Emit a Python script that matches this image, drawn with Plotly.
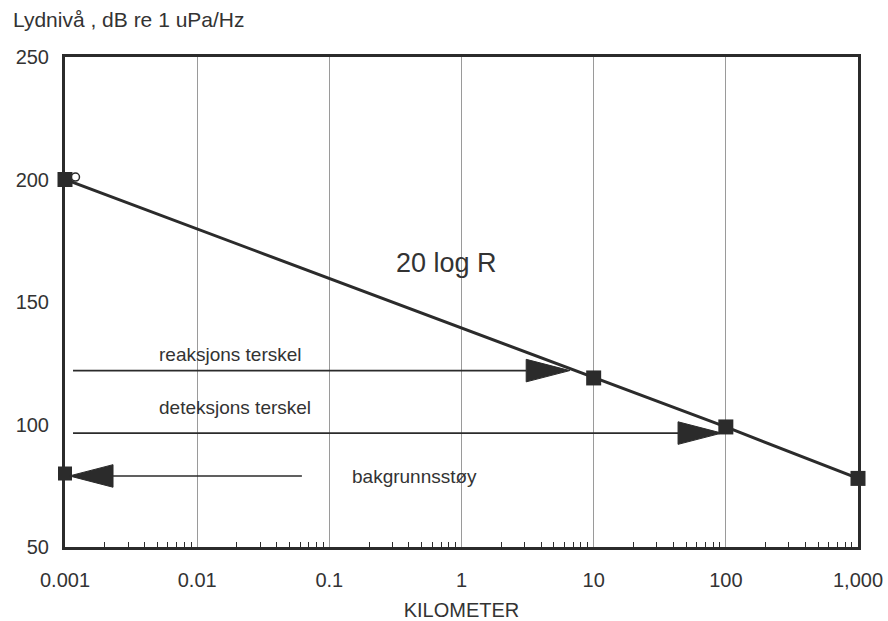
import math
import plotly.graph_objects as go

# Spreading loss curve, 20 log R (km, dB re 1 uPa/Hz)
range_km = [0.001, 10, 100, 1000]
level_db = [200, 119, 99, 78]

# Source / far-end open circles
circle_km = [0.0012, 1060]
circle_db = [201, 78]

# Threshold arrows: level dB, start km, tip km
arrow_labels = ["reaksjons terskel", "deteksjons terskel", "bakgrunnsstøy"]
arrow_levels = [122, 96.5, 79]
arrow_start_km = [0.00115, 0.00115, 0.062]
arrow_tip_km = [6.6, 93, 0.00108]
background_square_db = [80]

x_ticks = [0.001, 0.01, 0.1, 1, 10, 100, 1000]
x_tick_text = ["0.001", "0.01", "0.1", "1", "10", "100", "1,000"]
y_ticks = [50, 100, 150, 200, 250]

INK = "#2b2b2b"
TEXT = "#333333"
FONT = "Liberation Sans, Arial, sans-serif"

fig = go.Figure()

# Main 20 log R line with square markers
fig.add_trace(go.Scatter(
    x=range_km, y=level_db, mode="lines+markers",
    line=dict(color=INK, width=3),
    marker=dict(symbol="square", size=15, color=INK),
    cliponaxis=False, showlegend=False, hoverinfo="skip"))

fig.add_trace(go.Scatter(
    x=circle_km, y=circle_db, mode="markers",
    marker=dict(symbol="circle", size=8, color="white",
                line=dict(color=INK, width=1.5)),
    cliponaxis=False, showlegend=False, hoverinfo="skip"))

# Square on the y axis marking background noise
fig.add_trace(go.Scatter(
    x=[0.001], y=background_square_db, mode="markers",
    marker=dict(symbol="square", size=14, color=INK),
    cliponaxis=False, showlegend=False, hoverinfo="skip"))

# Arrowhead geometry: length in decades, half-height in dB
HEAD_LEN = 0.33
HEAD_HALF = 4.6

for lvl, x0, x1 in zip(arrow_levels, arrow_start_km, arrow_tip_km):
    direction = 1 if x1 > x0 else -1
    base = 10 ** (math.log10(x1) - direction * HEAD_LEN)
    fig.add_trace(go.Scatter(
        x=[x0, base], y=[lvl, lvl], mode="lines",
        line=dict(color=INK, width=1.6),
        showlegend=False, hoverinfo="skip"))
    fig.add_trace(go.Scatter(
        x=[base, x1, base, base], y=[lvl + HEAD_HALF, lvl, lvl - HEAD_HALF, lvl + HEAD_HALF],
        mode="lines", fill="toself", fillcolor=INK,
        line=dict(color=INK, width=1),
        cliponaxis=False, showlegend=False, hoverinfo="skip"))

# Text labels
label_pos = [(0.00497, 128.6), (0.00497, 106.8), (0.143, 78.6)]
for txt, (lx, ly) in zip(arrow_labels, label_pos):
    fig.add_annotation(x=math.log10(lx), y=ly, text=txt, showarrow=False,
                       xanchor="left", yanchor="middle",
                       font=dict(family=FONT, size=19, color=TEXT))

fig.add_annotation(x=math.log10(0.31), y=166, text="20 log R", showarrow=False,
                   xanchor="left", yanchor="middle",
                   font=dict(family=FONT, size=27, color=TEXT))

fig.add_annotation(x=-0.068, y=1 + 37 / 490, xref="paper", yref="paper",
                   xanchor="left", yanchor="middle",
                   text="Lydnivå , dB re 1 uPa/Hz", showarrow=False,
                   font=dict(family=FONT, size=21, color=TEXT))

minor_vals = [m * 10 ** e for e in range(-3, 3) for m in range(2, 10)]

fig.update_xaxes(
    type="log", range=[-3, 3], automargin=False,
    tickvals=x_ticks, ticktext=x_tick_text,
    showgrid=True, gridcolor="#9a9a9a", gridwidth=1,
    showline=True, linecolor=INK, linewidth=3, mirror=True,
    ticks="", ticklabelstandoff=13,
    minor=dict(tickvals=minor_vals, ticks="inside", ticklen=5,
               tickcolor=INK, tickwidth=1, showgrid=False),
    tickfont=dict(family=FONT, size=20, color=TEXT),
    title=dict(text="KILOMETER", font=dict(family=FONT, size=20, color=TEXT), standoff=14),
    zeroline=False)

fig.update_yaxes(
    range=[50, 250], tickvals=y_ticks, automargin=False,
    showgrid=False,
    showline=True, linecolor=INK, linewidth=3, mirror=True,
    ticks="", ticklabelstandoff=9,
    tickfont=dict(family=FONT, size=20, color=TEXT),
    zeroline=False)

fig.update_layout(
    width=888, height=621,
    margin=dict(l=65, r=30, t=57, b=74, pad=0),
    paper_bgcolor="white", plot_bgcolor="white",
    showlegend=False)

fig.write_html("out.html")
